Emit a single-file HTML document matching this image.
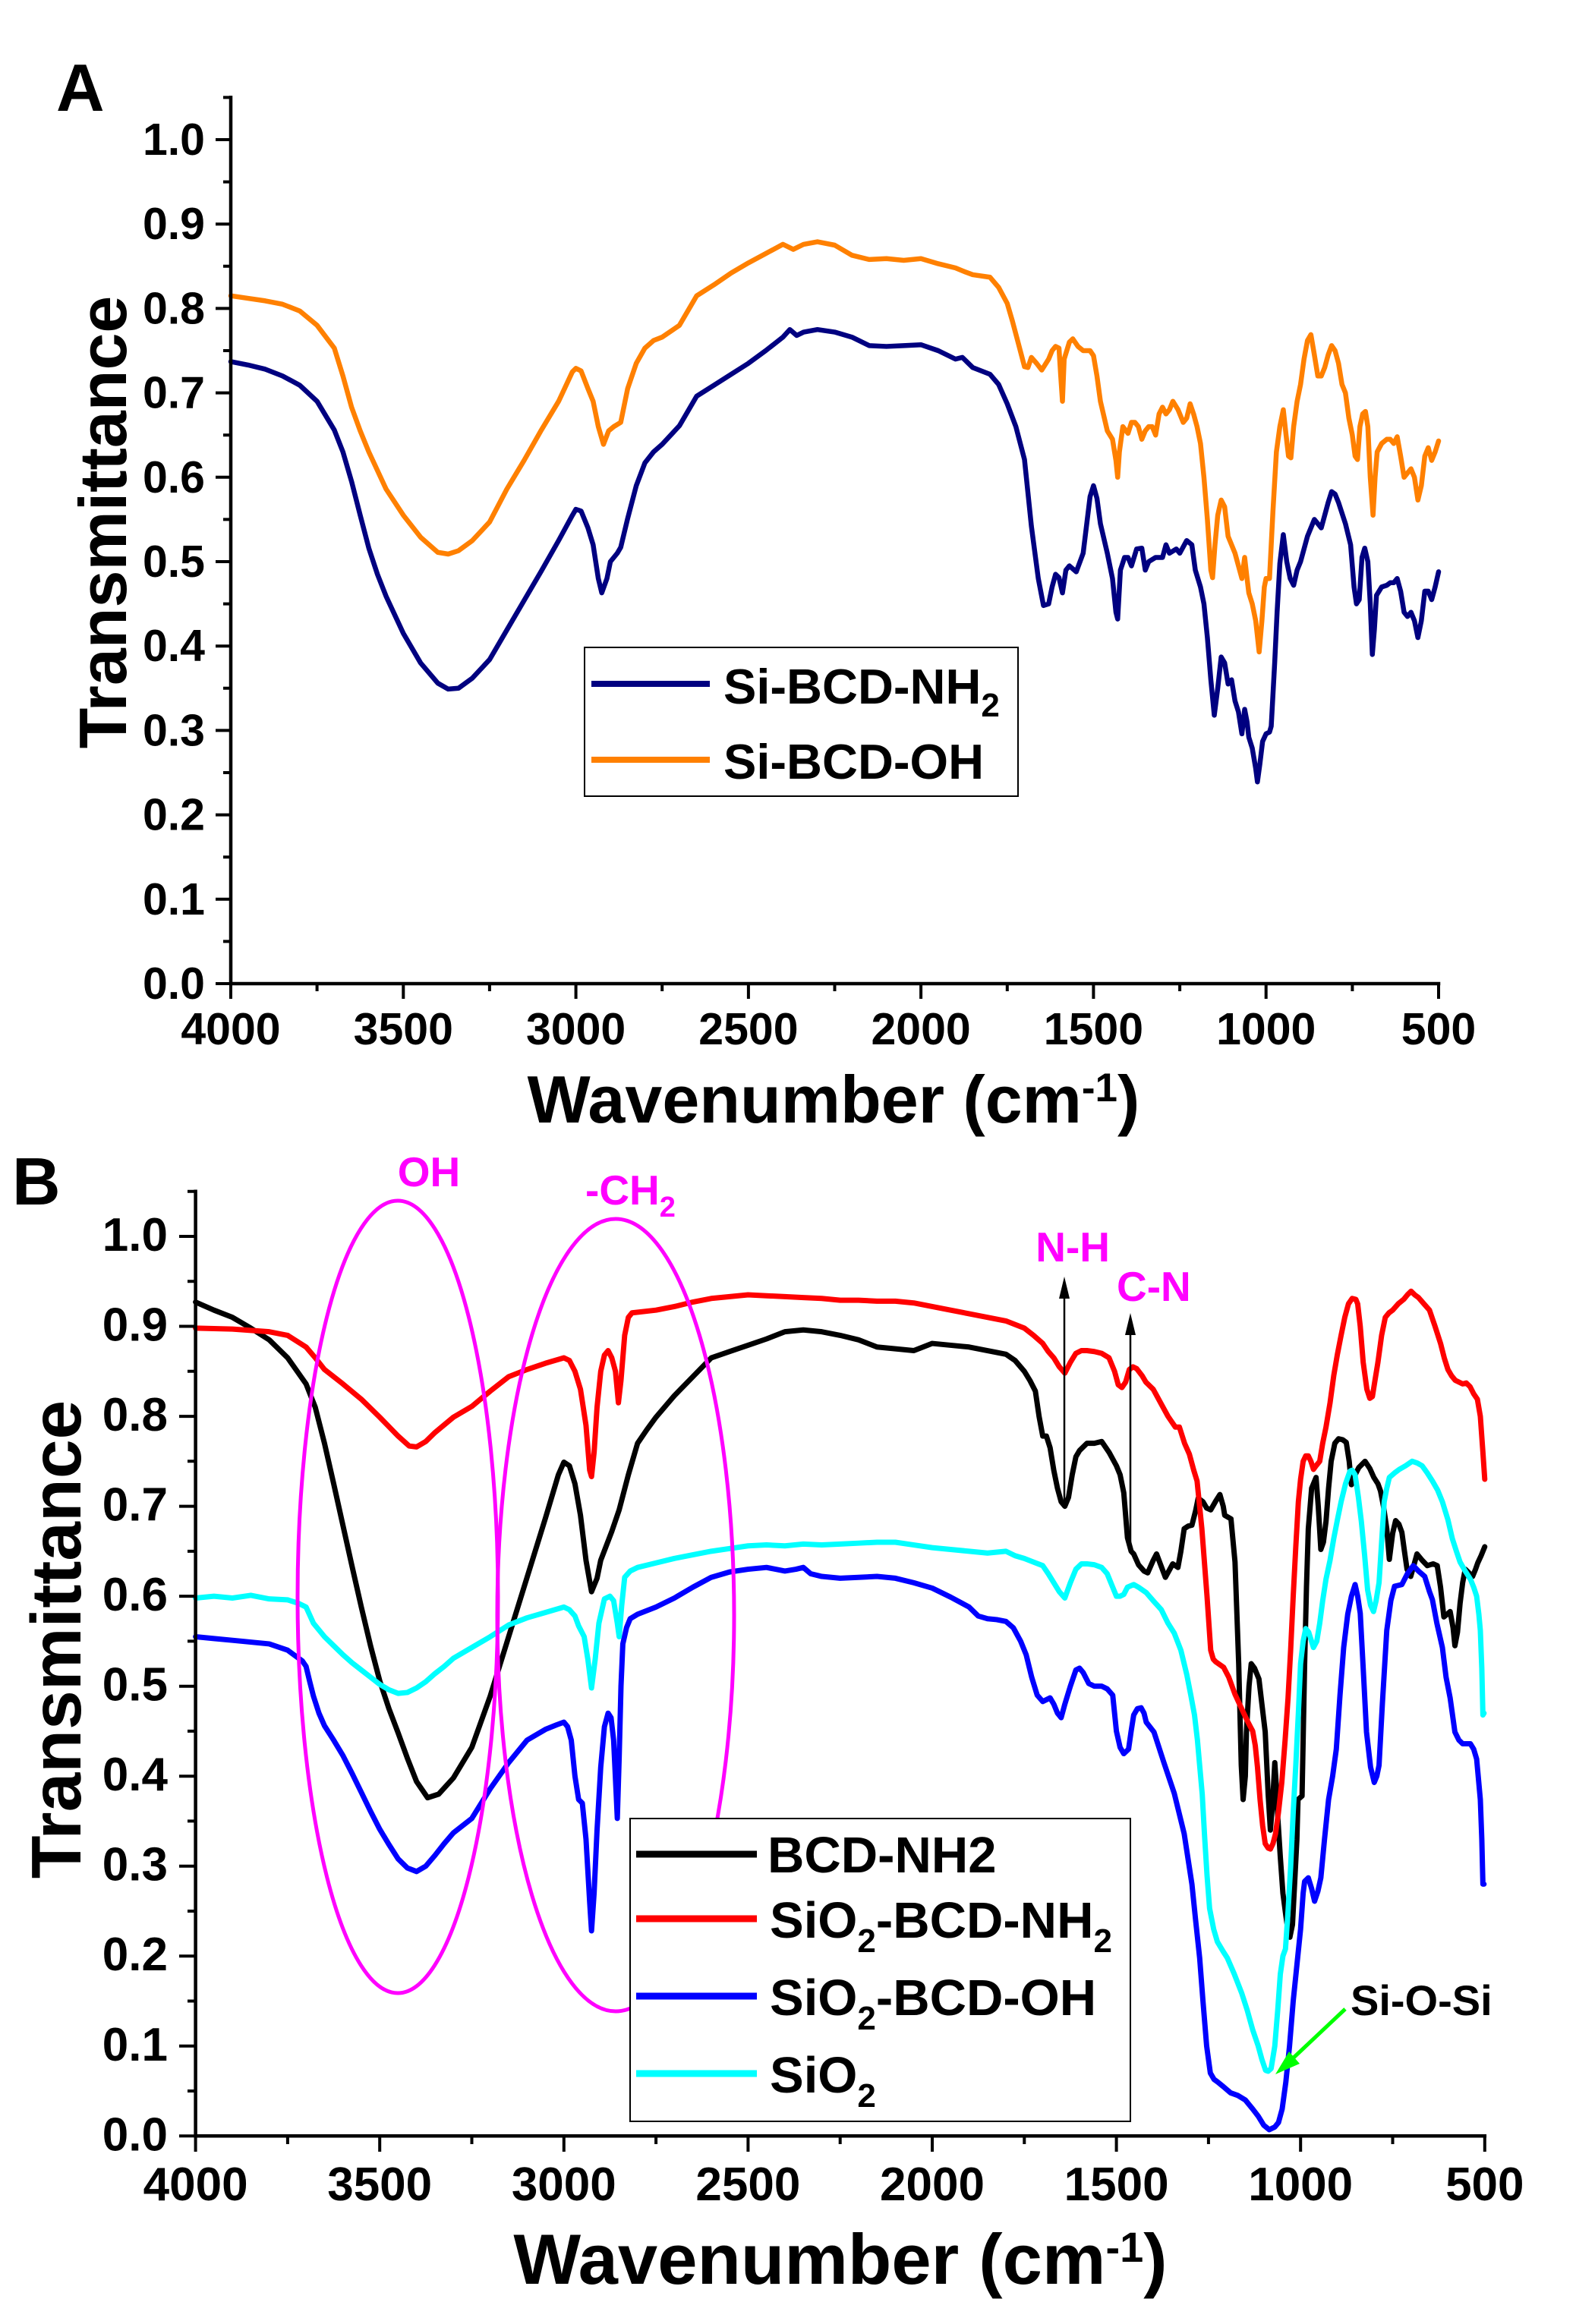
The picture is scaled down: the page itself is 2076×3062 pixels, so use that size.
<!DOCTYPE html>
<html><head><meta charset="utf-8">
<style>
html,body{margin:0;padding:0;background:#fff;}
svg{display:block;}
text{font-family:"Liberation Sans",Arial,sans-serif;font-weight:bold;}
.c{fill:none;stroke-linejoin:round;stroke-linecap:round;vector-effect:non-scaling-stroke;}
</style></head>
<body>
<svg xmlns="http://www.w3.org/2000/svg" width="2076" height="3062" viewBox="0 0 2076 3062">
<rect width="2076" height="3062" fill="#fff"/>

<!-- ================= PANEL A ================= -->
<text x="74" y="146" font-size="88">A</text>

<g transform="translate(2122.29,1296) scale(-0.454571,-1112)">
<path class="c" stroke="#000080" stroke-width="6.5" d="M4000,.737 3950,.733 3900,.728 3850,.72 3800,.709 3750,.69 3700,.656 3675,.63 3650,.595 3625,.555 3600,.516 3575,.485 3550,.459 3500,.415 3450,.38 3400,.356 3370,.349 3340,.35 3300,.362 3250,.384 3200,.419 3150,.454 3100,.489 3050,.525 3010,.555 3000,.562 2985,.56 2965,.54 2950,.52 2935,.48 2925,.463 2910,.48 2900,.5 2880,.51 2870,.517 2850,.551 2825,.59 2800,.617 2775,.63 2750,.639 2700,.661 2650,.696 2600,.709 2550,.722 2500,.735 2450,.75 2400,.766 2380,.775 2360,.768 2340,.772 2300,.775 2250,.772 2200,.766 2150,.756 2100,.755 2050,.756 2000,.757 1950,.75 1900,.74 1880,.742 1850,.73 1800,.722 1775,.71 1750,.687 1725,.66 1700,.621 1680,.542 1660,.48 1645,.448 1630,.45 1620,.47 1610,.485 1600,.481 1590,.463 1580,.49 1570,.495 1550,.488 1530,.51 1510,.577 1500,.59 1490,.575 1480,.545 1460,.51 1445,.48 1435,.44 1430,.432 1422,.49 1410,.505 1400,.505 1390,.495 1375,.515 1360,.516 1350,.49 1340,.5 1320,.505 1300,.505 1290,.52 1280,.51 1260,.515 1250,.51 1230,.525 1215,.52 1205,.49 1190,.47 1180,.45 1170,.41 1160,.36 1150,.318 1140,.35 1130,.387 1120,.38 1110,.355 1100,.36 1090,.335 1080,.322 1070,.296 1062,.325 1055,.31 1050,.292 1040,.279 1030,.255 1025,.239 1018,.26 1010,.287 1000,.296 990,.298 985,.305 975,.38 968,.44 960,.498 950,.532 940,.5 930,.48 920,.472 910,.49 900,.5 880,.53 860,.55 850,.545 840,.54 830,.555 820,.57 810,.583 800,.58 790,.57 770,.545 755,.52 745,.47 738,.45 730,.455 722,.505 714,.516 705,.5 698,.45 692,.39 686,.42 680,.46 665,.47 650,.472 640,.475 630,.475 620,.48 610,.465 600,.44 590,.435 580,.44 570,.43 560,.41 550,.43 540,.465 530,.465 520,.455 510,.47 500,.488"/>
<path class="c" stroke="#ff8000" stroke-width="6.5" d="M4000,.815 3950,.812 3900,.809 3850,.805 3800,.797 3750,.78 3700,.753 3675,.72 3650,.683 3625,.655 3600,.63 3550,.586 3500,.555 3450,.529 3400,.511 3370,.509 3340,.513 3300,.525 3250,.547 3200,.586 3150,.62 3100,.656 3050,.69 3010,.725 3000,.729 2985,.726 2965,.705 2950,.69 2935,.66 2920,.639 2905,.655 2890,.66 2870,.665 2850,.705 2825,.735 2800,.753 2775,.762 2750,.766 2700,.78 2650,.815 2600,.828 2550,.842 2500,.854 2450,.865 2400,.876 2370,.87 2340,.876 2300,.879 2250,.875 2200,.863 2150,.858 2100,.859 2050,.857 2000,.859 1950,.853 1900,.848 1870,.843 1850,.84 1800,.837 1775,.825 1750,.806 1735,.785 1720,.762 1700,.731 1690,.73 1680,.742 1665,.735 1650,.727 1630,.74 1620,.75 1610,.755 1600,.753 1595,.72 1590,.69 1585,.74 1570,.76 1560,.764 1545,.755 1530,.75 1510,.75 1500,.744 1490,.72 1480,.69 1460,.655 1445,.645 1435,.62 1430,.6 1425,.63 1415,.66 1400,.652 1390,.665 1380,.665 1370,.66 1360,.645 1350,.655 1340,.66 1330,.66 1320,.65 1310,.675 1300,.683 1290,.675 1280,.68 1270,.69 1255,.68 1240,.665 1230,.67 1220,.687 1210,.675 1200,.66 1190,.64 1180,.6 1170,.55 1160,.49 1155,.481 1148,.52 1140,.555 1130,.573 1120,.565 1110,.53 1100,.52 1090,.51 1080,.495 1070,.48 1062,.505 1055,.48 1050,.463 1040,.45 1030,.43 1020,.393 1012,.43 1005,.47 1000,.48 990,.48 980,.56 970,.63 960,.66 950,.68 942,.65 935,.625 928,.623 920,.66 910,.69 900,.71 890,.74 880,.762 870,.769 860,.745 850,.72 840,.72 830,.73 820,.745 810,.756 800,.75 790,.735 780,.71 770,.7 760,.67 750,.65 742,.625 735,.621 728,.66 720,.675 712,.678 705,.66 698,.6 690,.555 684,.6 678,.63 665,.64 650,.645 640,.645 630,.64 620,.648 610,.625 600,.6 590,.605 580,.61 570,.6 560,.573 550,.59 540,.625 530,.635 520,.62 510,.63 500,.643"/>
</g>

<!-- A axes -->
<path d="M304,128.4V1296H1895" fill="none" stroke="#000" stroke-width="4.5" stroke-linecap="square"/>
<path stroke="#000" stroke-width="4" fill="none" d="M284,1296H304 M294,1240.4H304 M284,1184.8H304 M294,1129.2H304 M284,1073.6H304 M294,1018H304 M284,962.4H304 M294,906.8H304 M284,851.2H304 M294,795.6H304 M284,740H304 M294,684.4H304 M284,628.8H304 M294,573.2H304 M284,517.6H304 M294,462H304 M284,406.4H304 M294,350.8H304 M284,295.2H304 M294,239.6H304 M284,184H304 M294,128.4H304
M304,1296V1316 M417.6,1296V1306 M531.3,1296V1316 M644.9,1296V1306 M758.6,1296V1316 M872.2,1296V1306 M985.9,1296V1316 M1099.5,1296V1306 M1213.1,1296V1316 M1326.8,1296V1306 M1440.4,1296V1316 M1554.1,1296V1306 M1667.7,1296V1316 M1781.4,1296V1306 M1895,1296V1316"/>
<g font-size="59" text-anchor="end">
<text x="270" y="1316">0.0</text>
<text x="270" y="1204.8">0.1</text>
<text x="270" y="1093.6">0.2</text>
<text x="270" y="982.4">0.3</text>
<text x="270" y="871.2">0.4</text>
<text x="270" y="760">0.5</text>
<text x="270" y="648.8">0.6</text>
<text x="270" y="537.6">0.7</text>
<text x="270" y="426.4">0.8</text>
<text x="270" y="315.2">0.9</text>
<text x="270" y="204">1.0</text>
</g>
<g font-size="59" text-anchor="middle">
<text x="304" y="1376">4000</text>
<text x="531.3" y="1376">3500</text>
<text x="758.6" y="1376">3000</text>
<text x="985.9" y="1376">2500</text>
<text x="1213.1" y="1376">2000</text>
<text x="1440.4" y="1376">1500</text>
<text x="1667.7" y="1376">1000</text>
<text x="1895" y="1376">500</text>
</g>
<text transform="translate(166,688) rotate(-90)" font-size="88" text-anchor="middle">Transmittance</text>
<text x="1098" y="1479" font-size="88" text-anchor="middle">Wavenumber (cm<tspan font-size="53" dy="-28">-1</tspan><tspan dy="28">)</tspan></text>

<!-- A legend -->
<rect x="770" y="853" width="571" height="196" fill="#fff" stroke="#000" stroke-width="2"/>
<path d="M779,901H935" stroke="#000080" stroke-width="8"/>
<path d="M779,1001H935" stroke="#ff8000" stroke-width="8"/>
<text x="953" y="927" font-size="65">Si-BCD-NH<tspan font-size="44" dy="17">2</tspan></text>
<text x="953" y="1026" font-size="65">Si-BCD-OH</text>

<!-- ================= PANEL B ================= -->
<text x="16" y="1587" font-size="88">B</text>

<g transform="translate(2198.4,2814.3) scale(-0.4852,-1185.3)">
<path class="c" stroke="#000" stroke-width="7" d="M4000,.927 3950,.918 3900,.91 3850,.898 3800,.885 3750,.865 3700,.836 3675,.81 3650,.77 3625,.725 3600,.679 3575,.633 3550,.588 3525,.545 3500,.506 3475,.475 3450,.448 3425,.42 3400,.394 3370,.376 3340,.38 3300,.398 3250,.432 3200,.489 3150,.555 3100,.621 3050,.687 3015,.735 3000,.749 2985,.745 2970,.725 2955,.69 2940,.64 2925,.605 2910,.62 2900,.64 2870,.672 2850,.696 2825,.735 2800,.77 2775,.785 2750,.799 2700,.823 2650,.844 2600,.865 2550,.872 2500,.879 2450,.886 2400,.894 2350,.896 2300,.894 2250,.89 2200,.885 2150,.877 2100,.875 2050,.873 2000,.881 1950,.879 1900,.877 1850,.873 1800,.869 1775,.862 1750,.85 1735,.84 1720,.828 1710,.8 1700,.778 1690,.778 1680,.765 1670,.74 1660,.72 1650,.705 1640,.7 1630,.71 1620,.735 1610,.755 1600,.762 1580,.77 1560,.77 1540,.772 1520,.76 1500,.745 1490,.735 1480,.715 1470,.665 1460,.65 1453,.647 1440,.635 1425,.628 1415,.626 1400,.64 1391,.647 1380,.635 1367,.621 1355,.63 1347,.636 1333,.632 1325,.65 1316,.675 1305,.678 1295,.679 1285,.695 1278,.709 1265,.705 1255,.698 1244,.696 1230,.706 1219,.713 1210,.7 1206,.69 1189,.686 1178,.638 1168,.525 1161,.412 1156,.374 1150,.4 1147,.449 1140,.5 1134,.525 1125,.52 1113,.508 1105,.48 1096,.449 1088,.38 1082,.34 1076,.37 1070,.415 1066,.39 1062,.355 1055,.31 1048,.27 1040,.245 1034,.228 1029,.221 1022,.235 1015,.29 1010,.33 1007,.374 996,.378 989,.525 984,.61 979,.675 970,.72 958,.732 952,.7 945,.652 938,.66 931,.683 924,.72 917,.75 907,.77 897,.775 886,.774 876,.771 868,.75 862,.724 852,.735 842,.743 825,.75 812,.742 801,.732 790,.725 783,.717 775,.7 766,.675 759,.641 750,.67 742,.684 733,.68 725,.671 718,.65 711,.63 701,.622 692,.635 684,.647 670,.64 656,.634 640,.636 629,.634 620,.61 611,.577 602,.58 594,.583 586,.565 581,.545 574,.56 567,.592 560,.615 553,.63 543,.626 533,.622 525,.63 519,.637 510,.645 502,.653 500,.655"/>
<path class="c" stroke="#ff0000" stroke-width="7" d="M4000,.898 3900,.897 3800,.894 3750,.89 3700,.877 3675,.865 3650,.852 3600,.836 3550,.819 3500,.799 3450,.778 3420,.767 3400,.766 3375,.772 3350,.782 3300,.799 3250,.811 3200,.828 3150,.844 3100,.852 3050,.859 3000,.865 2985,.862 2970,.85 2955,.83 2940,.79 2930,.74 2925,.733 2918,.76 2910,.81 2900,.85 2890,.868 2880,.873 2870,.865 2860,.85 2852,.815 2845,.84 2835,.89 2825,.91 2815,.915 2750,.918 2700,.922 2650,.927 2600,.931 2550,.933 2500,.935 2450,.934 2400,.933 2350,.932 2300,.931 2250,.929 2200,.929 2150,.928 2100,.928 2050,.926 2000,.922 1950,.918 1900,.914 1850,.91 1800,.906 1775,.902 1750,.898 1725,.89 1700,.881 1685,.872 1670,.865 1655,.855 1640,.848 1625,.86 1610,.87 1595,.873 1580,.873 1560,.872 1540,.87 1520,.865 1505,.85 1495,.835 1485,.832 1475,.838 1465,.852 1455,.855 1445,.853 1430,.845 1420,.838 1400,.83 1380,.815 1360,.8 1340,.788 1329,.788 1315,.77 1302,.758 1290,.74 1281,.728 1268,.675 1254,.6 1244,.54 1237,.53 1230,.527 1209,.521 1195,.51 1178,.491 1160,.475 1144,.461 1130,.45 1123,.434 1117,.41 1110,.374 1103,.345 1096,.325 1088,.32 1082,.319 1075,.325 1068,.336 1060,.36 1051,.393 1042,.44 1034,.487 1027,.54 1020,.6 1013,.655 1006,.705 1000,.73 993,.75 986,.756 979,.756 972,.75 965,.741 958,.745 948,.75 940,.77 931,.788 920,.815 910,.845 900,.869 890,.89 880,.91 870,.925 860,.931 850,.93 845,.925 838,.9 830,.86 820,.83 812,.82 805,.822 798,.84 790,.86 780,.89 770,.91 760,.915 750,.918 735,.925 720,.93 710,.935 700,.939 690,.935 680,.932 665,.925 650,.918 635,.9 620,.881 610,.865 600,.852 590,.845 580,.84 570,.838 560,.836 550,.837 540,.833 530,.825 520,.819 512,.8 505,.76 500,.73"/>
<path class="c" stroke="#0000ff" stroke-width="7" d="M4000,.555 3950,.553 3900,.551 3850,.549 3800,.547 3750,.54 3710,.528 3700,.522 3690,.505 3680,.489 3665,.47 3650,.456 3625,.44 3600,.423 3575,.403 3550,.382 3525,.361 3500,.341 3475,.324 3450,.308 3425,.298 3400,.294 3375,.3 3350,.312 3325,.325 3300,.337 3250,.353 3200,.386 3150,.415 3100,.44 3050,.452 3020,.457 3000,.46 2990,.455 2980,.44 2970,.4 2960,.374 2950,.37 2940,.33 2930,.26 2925,.228 2918,.27 2910,.34 2900,.41 2890,.455 2880,.47 2872,.465 2865,.44 2858,.38 2855,.353 2850,.42 2845,.5 2840,.547 2830,.565 2820,.575 2800,.58 2750,.588 2700,.598 2650,.61 2600,.621 2550,.627 2500,.63 2450,.632 2400,.628 2370,.63 2350,.632 2330,.625 2300,.622 2250,.62 2200,.621 2150,.622 2100,.62 2050,.615 2000,.609 1950,.599 1900,.588 1875,.578 1850,.575 1825,.574 1800,.572 1780,.565 1760,.55 1745,.535 1730,.51 1715,.49 1700,.483 1690,.485 1680,.487 1670,.48 1660,.47 1650,.465 1640,.48 1625,.5 1610,.518 1600,.52 1590,.515 1575,.503 1560,.5 1540,.5 1525,.497 1510,.49 1500,.45 1490,.432 1480,.425 1467,.43 1460,.45 1453,.468 1443,.475 1433,.476 1425,.47 1419,.46 1398,.449 1371,.415 1343,.381 1316,.336 1295,.28 1285,.24 1274,.198 1265,.15 1255,.1 1245,.07 1235,.063 1225,.06 1210,.055 1190,.048 1170,.045 1150,.04 1130,.03 1115,.022 1100,.012 1085,.007 1070,.01 1060,.015 1050,.03 1040,.06 1030,.1 1020,.15 1010,.19 1000,.23 993,.27 989,.283 979,.287 970,.275 962,.261 953,.272 945,.287 935,.33 924,.374 913,.4 903,.43 893,.49 883,.543 872,.58 862,.6 852,.613 845,.6 838,.581 830,.52 821,.449 810,.41 800,.393 793,.4 787,.412 778,.48 766,.562 755,.595 745,.611 735,.612 725,.613 710,.625 694,.634 680,.628 663,.622 650,.605 642,.596 630,.57 615,.543 605,.51 594,.487 581,.449 570,.44 560,.436 550,.436 539,.436 530,.43 522,.419 512,.374 508,.33 505,.28 502,.28"/>
<path class="c" stroke="#00ffff" stroke-width="7" d="M4000,.598 3950,.6 3900,.598 3850,.601 3800,.597 3750,.596 3720,.592 3700,.588 3680,.57 3650,.555 3625,.545 3600,.535 3575,.526 3550,.518 3525,.51 3500,.502 3475,.496 3450,.492 3425,.493 3400,.498 3375,.505 3350,.514 3325,.522 3300,.531 3250,.543 3200,.555 3150,.568 3100,.576 3050,.582 3000,.588 2985,.585 2970,.578 2960,.567 2945,.555 2935,.53 2925,.498 2915,.53 2905,.57 2890,.597 2875,.6 2865,.595 2855,.57 2850,.555 2843,.59 2835,.621 2820,.628 2800,.632 2750,.637 2700,.642 2650,.646 2600,.65 2550,.653 2500,.656 2450,.657 2400,.656 2350,.658 2300,.657 2250,.658 2200,.659 2150,.66 2100,.66 2050,.657 2000,.654 1950,.652 1900,.65 1850,.648 1800,.65 1775,.645 1750,.642 1725,.638 1700,.634 1685,.625 1670,.615 1655,.605 1640,.598 1625,.615 1610,.63 1595,.636 1580,.636 1560,.635 1540,.632 1525,.625 1510,.61 1500,.6 1490,.6 1480,.602 1470,.61 1453,.613 1440,.61 1419,.604 1400,.595 1378,.585 1360,.57 1343,.559 1325,.54 1309,.513 1298,.49 1288,.468 1280,.44 1274,.412 1267,.38 1261,.336 1254,.29 1247,.253 1236,.23 1226,.216 1210,.205 1199,.198 1180,.18 1160,.159 1145,.14 1130,.118 1115,.1 1105,.085 1095,.073 1088,.072 1080,.075 1070,.1 1062,.14 1055,.18 1048,.2 1041,.208 1034,.25 1027,.299 1020,.36 1013,.412 1006,.47 1000,.525 993,.55 986,.564 978,.56 965,.543 956,.55 948,.57 940,.595 931,.619 920,.64 910,.664 900,.685 890,.705 878,.725 866,.739 860,.74 852,.735 843,.71 835,.683 826,.645 818,.607 810,.59 802,.583 795,.595 787,.615 780,.66 773,.705 766,.72 759,.732 745,.737 732,.741 715,.745 697,.75 683,.748 670,.745 656,.737 642,.728 628,.718 615,.705 600,.685 588,.664 577,.65 567,.638 553,.628 539,.619 530,.61 522,.6 516,.58 512,.562 508,.52 505,.468 502,.47"/>
</g>

<!-- B axes -->
<path d="M257.6,1569.7V2814.3H1955.8" fill="none" stroke="#000" stroke-width="4.5" stroke-linecap="square"/>
<path stroke="#000" stroke-width="4" fill="none" d="M236,2814.3H257.6 M247,2755H257.6 M236,2695.8H257.6 M247,2636.5H257.6 M236,2577.2H257.6 M247,2518H257.6 M236,2458.7H257.6 M247,2399.4H257.6 M236,2340.2H257.6 M247,2280.9H257.6 M236,2221.7H257.6 M247,2162.4H257.6 M236,2103.1H257.6 M247,2043.9H257.6 M236,1984.6H257.6 M247,1925.3H257.6 M236,1866.1H257.6 M247,1806.8H257.6 M236,1747.5H257.6 M247,1688.3H257.6 M236,1629H257.6 M247,1569.7H257.6
M257.6,2814.3V2835 M378.9,2814.3V2825 M500.2,2814.3V2835 M621.5,2814.3V2825 M742.8,2814.3V2835 M864.1,2814.3V2825 M985.4,2814.3V2835 M1106.7,2814.3V2825 M1228,2814.3V2835 M1349.3,2814.3V2825 M1470.6,2814.3V2835 M1591.9,2814.3V2825 M1713.2,2814.3V2835 M1834.5,2814.3V2825 M1955.8,2814.3V2835"/>
<g font-size="62" text-anchor="end">
<text x="221" y="2833.3">0.0</text>
<text x="221" y="2714.8">0.1</text>
<text x="221" y="2596.2">0.2</text>
<text x="221" y="2477.7">0.3</text>
<text x="221" y="2359.2">0.4</text>
<text x="221" y="2240.7">0.5</text>
<text x="221" y="2122.1">0.6</text>
<text x="221" y="2003.6">0.7</text>
<text x="221" y="1885.1">0.8</text>
<text x="221" y="1766.5">0.9</text>
<text x="221" y="1648">1.0</text>
</g>
<g font-size="62" text-anchor="middle">
<text x="257.6" y="2899">4000</text>
<text x="500.2" y="2899">3500</text>
<text x="742.8" y="2899">3000</text>
<text x="985.4" y="2899">2500</text>
<text x="1228" y="2899">2000</text>
<text x="1470.6" y="2899">1500</text>
<text x="1713.2" y="2899">1000</text>
<text x="1955.8" y="2899">500</text>
</g>
<text transform="translate(106,2160) rotate(-90)" font-size="93" text-anchor="middle">Transmittance</text>
<text x="1107" y="3009" font-size="94" text-anchor="middle">Wavenumber (cm<tspan font-size="56" dy="-29">-1</tspan><tspan dy="29">)</tspan></text>

<!-- Ellipses -->
<ellipse cx="524" cy="2104" rx="132" ry="522" fill="none" stroke="#ff00ff" stroke-width="5"/>
<ellipse cx="811" cy="2128" rx="156" ry="522" fill="none" stroke="#ff00ff" stroke-width="5"/>

<!-- Annotations -->
<g fill="#ff00ff" font-size="55">
<text x="565" y="1563" text-anchor="middle">OH</text>
<text x="771" y="1587">-CH<tspan font-size="38" dy="16">2</tspan></text>
<text x="1462" y="1662" text-anchor="end">N-H</text>
<text x="1471" y="1714">C-N</text>
</g>
<path d="M1402,1980V1706 M1489,2040V1754" stroke="#000" stroke-width="2.5"/>
<polygon points="1402,1682 1395,1711 1409,1711" fill="#000"/>
<polygon points="1489,1730 1482,1759 1496,1759" fill="#000"/>
<path d="M1772,2647L1703,2712" stroke="#00ff00" stroke-width="5"/>
<polygon points="1680,2733 1698,2703 1712,2719" fill="#00ff00"/>
<text x="1779" y="2655" font-size="56">Si-O-Si</text>

<!-- B legend -->
<rect x="830" y="2396" width="659" height="399" fill="#fff" stroke="#000" stroke-width="2"/>
<path d="M838,2443H997" stroke="#000" stroke-width="9"/>
<path d="M838,2528H997" stroke="#ff0000" stroke-width="9"/>
<path d="M838,2630H997" stroke="#0000ff" stroke-width="9"/>
<path d="M838,2732H997" stroke="#00ffff" stroke-width="9"/>
<g font-size="67">
<text x="1011" y="2467">BCD-NH2</text>
<text x="1014" y="2553">SiO<tspan font-size="44" dy="19">2</tspan><tspan dy="-19">-BCD-NH</tspan><tspan font-size="44" dy="19">2</tspan></text>
<text x="1014" y="2655">SiO<tspan font-size="44" dy="19">2</tspan><tspan dy="-19">-BCD-OH</tspan></text>
<text x="1014" y="2757">SiO<tspan font-size="44" dy="19">2</tspan></text>
</g>
</svg>
</body></html>
